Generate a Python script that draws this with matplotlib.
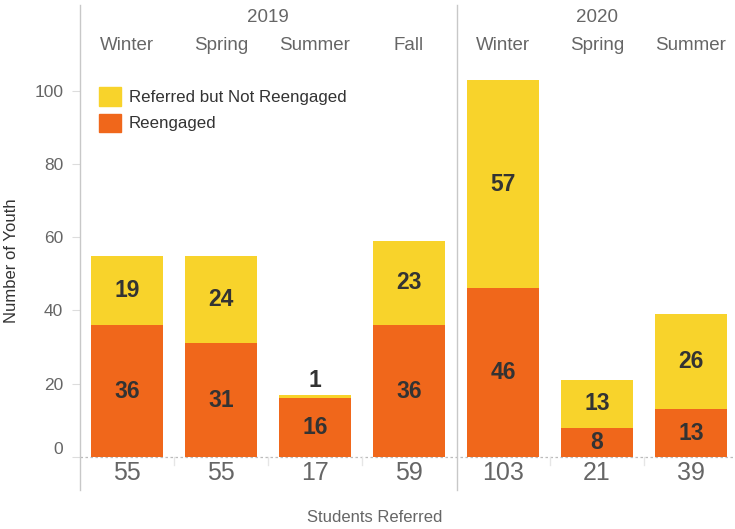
import matplotlib
matplotlib.use('Agg')
import matplotlib.pyplot as plt
from matplotlib.patches import Patch
from matplotlib.transforms import offset_copy

plt.rcParams['font.family'] = ['Liberation Sans', 'DejaVu Sans']

years = ['2019', '2020']
seasons = ['Winter', 'Spring', 'Summer', 'Fall', 'Winter', 'Spring', 'Summer']
year_of = [0, 0, 0, 0, 1, 1, 1]
reengaged = [36, 31, 16, 36, 46, 8, 13]
not_reengaged = [19, 24, 1, 23, 57, 13, 26]
totals = [55, 55, 17, 59, 103, 21, 39]

YELLOW = '#F8D32B'
ORANGE = '#F0671B'
TXT = '#333333'
GRAY = '#666666'
LINE = '#C8C8C8'

W, H = 735, 529
fig = plt.figure(figsize=(W / 100, H / 100), dpi=100)

def fx(px):
    return px / W

def fy(py):
    return 1 - py / H

ax = fig.add_axes([fx(80), fy(457), fx(658), fy(65) - fy(457)])
x = list(range(len(seasons)))
ax.bar(x, reengaged, width=0.76, color=ORANGE, zorder=2)
ax.bar(x, not_reengaged, width=0.76, bottom=reengaged, color=YELLOW, zorder=2)
ax.set_xlim(-0.5, 6.5)
ax.set_ylim(0, 107)

for i in x:
    r, n = reengaged[i], not_reengaged[i]
    ax.text(i, r / 2, str(r), ha='center', va='center', fontsize=16.5,
            fontweight='bold', color=TXT, zorder=3)
    ny = r + n / 2 if n >= 5 else r + n + 4
    ax.text(i, ny, str(n), ha='center', va='center', fontsize=16.5,
            fontweight='bold', color=TXT, zorder=3)

for s in ax.spines.values():
    s.set_visible(False)
ax.set_xticks([])
ax.set_yticks([0, 20, 40, 60, 80, 100])
ax.tick_params(axis='y', colors='#DDDDDD', labelcolor=GRAY, labelsize=12.5,
               length=6, width=0.8, pad=6)
lbl0 = ax.get_yticklabels()[0]
lbl0.set_transform(offset_copy(lbl0.get_transform(), fig=fig, y=9, units='dots'))
ax.axhline(0, color='#BBBBBB', lw=0.9, ls=(0, (2, 2)), zorder=1, clip_on=False)
ax.set_ylabel('Number of Youth', fontsize=12, color=TXT, labelpad=11)

leg = ax.legend(handles=[Patch(color=YELLOW, label='Referred but Not Reengaged'),
                         Patch(color=ORANGE, label='Reengaged')],
                loc='upper left', bbox_to_anchor=(0.018, 0.96), frameon=False,
                fontsize=12.2, handlelength=1.3, handleheight=1.3,
                handletextpad=0.5, labelspacing=0.45, borderaxespad=0)
for t in leg.get_texts():
    t.set_color(TXT)

# frame lines and header
for px in (80, 457):
    fig.add_artist(plt.Line2D([fx(px), fx(px)], [fy(5), fy(490)], color=LINE, lw=1))

for k, yr in enumerate(years):
    idx = [i for i in x if year_of[i] == k]
    cx = (idx[0] + idx[-1]) / 2
    fig.text(fx(80 + (cx + 0.5) * 94), fy(18), yr, ha='center', va='center',
             fontsize=13.5, color=GRAY)
for i in x:
    fig.text(fx(80 + (i + 0.5) * 94), fy(46), seasons[i], ha='center', va='center',
             fontsize=13.5, color=GRAY)
    fig.text(fx(80 + (i + 0.5) * 94), fy(473), str(totals[i]), ha='center',
             va='center', fontsize=18, color=GRAY)
for i in range(1, 7):
    if i != 4:
        fig.add_artist(plt.Line2D([fx(80 + i * 94), fx(80 + i * 94)], [fy(457), fy(465)],
                                  color='#E6E6E6', lw=1))

fig.text(fx(375), fy(517), 'Students Referred', ha='center', va='center',
         fontsize=12, color=GRAY)

fig.savefig('out.png', dpi=100)
